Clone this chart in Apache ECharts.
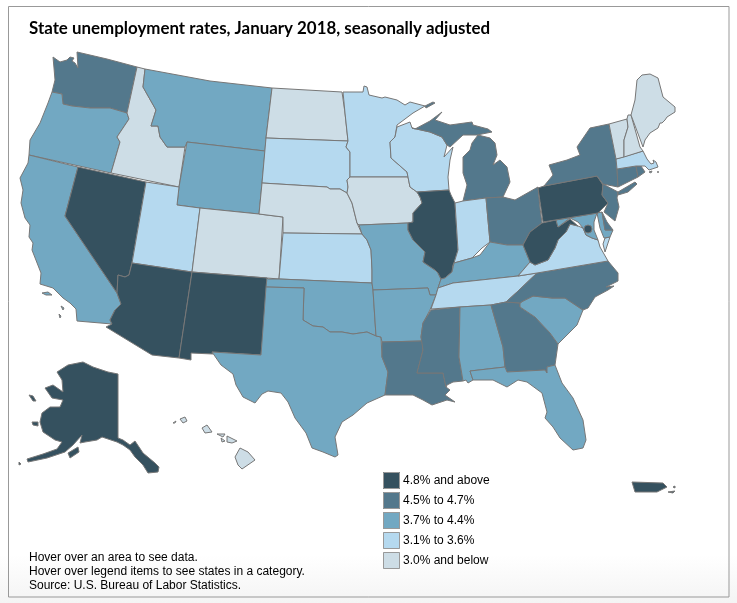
<!DOCTYPE html>
<html lang="en">
<head>
<meta charset="UTF-8">
<title>State unemployment rates</title>
<script src="https://cdn.jsdelivr.net/npm/echarts@6/dist/echarts.min.js"></script>
<style>html,body{margin:0;padding:0;background:#fff}</style>
</head>
<body>
<div id="main" style="width:737px;height:603px;"></div>
<script>
// rates read by legend class from the picture
const high = ['Alaska','Arizona','District of Columbia','Illinois','Nevada','New Mexico','Pennsylvania','West Virginia','Puerto Rico'];
const highRates = [7.3,4.9,5.0,4.8,5.0,5.9,4.8,5.4,10.6];
const upper = ['Washington','New York','Connecticut','New Jersey','Rhode Island','Ohio','Michigan','Mississippi','Louisiana','Georgia','North Carolina','Delaware'];
const upperRates = [4.7,4.6,4.6,4.6,4.5,4.6,4.7,4.6,4.7,4.5,4.5,4.5];
const middle = ['Oregon','California','Montana','Wyoming','Texas','Oklahoma','Arkansas','Missouri','Kentucky','Alabama','Florida','South Carolina','Maryland'];
const middleRates = [4.1,4.4,3.9,4.1,3.9,4.0,3.7,3.7,4.4,3.7,3.9,4.0,4.0];
const lower = ['Minnesota','Wisconsin','South Dakota','Kansas','Utah','Indiana','Tennessee','Virginia','Massachusetts'];
const lowerRates = [3.2,3.1,3.3,3.5,3.2,3.4,3.5,3.4,3.5];
const low = ['North Dakota','Idaho','Nebraska','Iowa','Colorado','Hawaii','Vermont','New Hampshire','Maine'];
const lowRates = [2.6,2.9,2.9,2.9,2.9,2.1,2.9,2.6,3.0];

const legendLabels = ['4.8% and above','4.5% to 4.7%','3.7% to 4.4%','3.1% to 3.6%','3.0% and below'];
const colors = ['#35515f','#53788c','#72a8c2','#b5d9ef','#cddde6'];

// outlines, in the picture's own coordinates
const outlines = {
  'Washington': [[53,57,60,62,67,60,70,57,74,58,72,61,75,63,78,68,77,52,107,59,137,67,127,113,110,108,90,108,72,106,63,104,62,94,52,92,55,80,54,68]],
  'Oregon': [[52,92,62,94,63,104,72,106,90,108,110,108,127,113,129,119,117,137,120,142,111,173,29,155,30,140,40,123,48,103]],
  'Idaho': [[137,67,145,69,143,87,156,110,151,126,158,126,160,137,167,147,185,147,179,187,111,173,120,142,117,137,129,119,127,113]],
  'Montana': [[145,69,210,81,272,88,266,138,265,151,187,142,185,147,167,147,160,137,158,126,151,126,156,110,143,87]],
  'Wyoming': [[187,142,265,151,262,183,259,214,200,208,177,205,179,187]],
  'California': [[29,155,78,167,65,216,117,293,121,304,115,310,110,320,112,324,77,321,76,309,70,303,63,298,53,288,40,284,41,273,32,250,33,243,29,237,30,225,25,218,21,203,23,190,20,178,28,163],
    [42,293,48,292,52,295,46,295],[61,306,64,308,63,310],[59,314,61,316,60,318]],
  'Nevada': [[78,167,146,182,132,263,129,275,125,277,118,275,117,293,65,216]],
  'Utah': [[146,182,179,187,177,205,200,208,192,272,132,263]],
  'Arizona': [[132,263,192,272,179,358,152,355,106,327,112,324,110,320,115,310,121,304,117,293,118,275,125,277,129,275]],
  'Colorado': [[200,208,259,214,283,217,279,279,267,278,192,272]],
  'New Mexico': [[192,272,267,278,268,287,261,355,212,352,213,354,191,353,191,360,179,358]],
  'North Dakota': [[272,88,342,92,345,113,348,141,266,138]],
  'South Dakota': [[266,138,348,141,346,147,350,152,350,177,347,180,348,187,347,193,340,189,330,189,327,187,262,183]],
  'Nebraska': [[262,183,327,187,330,189,340,189,347,193,352,203,357,223,362,234,283,233,283,217,259,214]],
  'Kansas': [[283,233,362,234,367,240,371,250,372,270,372,283,279,279]],
  'Oklahoma': [[268,279,279,279,372,283,373,290,376,336,367,332,353,334,342,332,330,332,323,327,313,326,303,320,304,288,266,287,267,278]],
  'Texas': [[266,287,304,288,303,320,313,326,323,327,330,332,342,332,353,334,367,332,376,336,381,337,382,357,388,372,385,395,367,403,353,415,342,422,335,437,338,455,335,457,323,452,312,448,306,433,295,418,288,402,281,393,268,391,262,394,255,403,243,397,236,385,233,374,221,365,212,352,261,355]],
  'Minnesota': [[343,92,363,92,364,86,367,87,369,95,382,98,385,97,397,100,405,105,410,102,425,106,413,113,397,125,395,137,390,142,391,158,407,172,408,177,350,177,350,152,346,147,348,141,345,113]],
  'Iowa': [[350,177,408,177,410,187,417,192,420,197,422,203,413,213,413,222,408,223,359,225,357,223,352,203,347,193,348,187,347,180]],
  'Missouri': [[359,225,408,223,408,230,413,240,425,252,423,262,435,270,438,273,441,279,438,288,436,295,430,295,428,288,373,290,372,283,372,270,371,250,367,240,362,234]],
  'Arkansas': [[373,290,428,288,430,295,436,295,430,310,423,323,421,337,422,341,382,342,381,337,376,336]],
  'Louisiana': [[382,342,422,341,423,350,417,373,443,373,446,387,450,390,445,395,455,402,447,400,432,405,423,400,413,395,400,395,385,395,388,372,382,357]],
  'Wisconsin': [[397,127,410,122,412,128,430,132,442,137,447,145,444,157,453,147,450,160,448,177,449,190,417,192,410,187,408,177,407,172,391,158,390,142,395,137]],
  'Illinois': [[417,192,449,190,451,195,455,203,458,250,454,263,453,265,452,272,445,278,441,279,438,273,435,270,423,262,425,252,413,240,408,230,408,223,413,222,413,213,422,203,420,197]],
  'Michigan': [[415,129,430,121,442,112,435,120,450,125,472,122,473,125,488,129,492,132,477,135,463,135,450,147,447,145,442,137,430,132,412,128],
    [478,135,490,138,495,143,497,155,493,165,500,160,507,167,510,182,503,197,486,198,463,201,467,185,463,173,463,157,470,150,472,143],
    [433,102,435,103,426,108,425,106]],
  'Indiana': [[455,203,463,201,486,198,490,242,482,248,472,258,454,263,458,250]],
  'Ohio': [[486,198,503,197,515,200,538,187,540,208,542,223,530,232,523,245,507,245,490,242]],
  'Kentucky': [[438,288,441,279,445,278,452,272,454,263,472,258,480,255,490,242,507,245,523,245,530,262,518,276,453,283]],
  'Tennessee': [[438,288,453,283,518,276,537,273,517,292,506,302,491,305,460,307,431,309,436,295]],
  'Mississippi': [[431,310,460,307,459,357,463,381,453,382,447,385,446,387,443,373,417,373,423,350,421,337,423,323]],
  'Alabama': [[460,307,491,305,503,347,505,367,470,371,473,380,468,383,466,380,463,381,459,357]],
  'Georgia': [[491,305,506,302,520,303,520,307,535,317,550,333,558,344,555,365,547,367,547,373,545,370,507,372,505,367,503,347]],
  'Florida': [[470,371,505,367,507,372,545,370,547,373,547,367,555,365,562,383,573,398,583,420,586,440,583,448,573,450,560,438,553,427,545,418,547,412,542,393,527,382,518,380,507,387,493,380,477,380,473,380]],
  'South Carolina': [[520,307,520,303,523,301,533,296,552,298,565,298,583,310,577,325,567,335,558,344,550,333,535,317]],
  'North Carolina': [[506,302,517,292,537,273,608,261,618,273,618,281,606,287,614,286,608,290,595,297,588,308,583,310,565,298,552,298,533,296,523,301,520,303]],
  'Virginia': [[518,276,530,262,535,265,548,260,555,248,558,240,566,232,570,224,578,226,583,228,586,235,592,238,598,240,600,247,604,254,608,261,537,273],
    [610,237,605,252,603,244,605,238]],
  'West Virginia': [[542,223,556,220,558,227,570,219,578,226,570,224,566,232,558,240,555,248,548,260,535,265,530,262,523,245,530,232]],
  'Maryland': [[556,220,597,213,594,222,594,230,598,240,592,238,586,235,583,228,578,222,570,218,558,227],
    [597,213,602,212,605,230,613,230,610,237,604,238,600,228,598,218]],
  'Delaware': [[602,212,607,222,613,230,605,230]],
  'District of Columbia': [[592,229,591,232,588,233,585,232,584,229,585,226,588,225,591,226]],
  'Pennsylvania': [[538,188,544,186,597,176,603,185,602,195,608,203,598,213,543,222]],
  'New Jersey': [[603,184,618,192,617,198,619,207,615,221,604,212,608,203,602,195]],
  'New York': [[544,186,553,175,549,165,567,160,580,155,577,147,590,128,609,124,616,157,617,169,618,187,603,184,597,176],
    [618,192,635,182,637,184,628,192,618,195]],
  'Connecticut': [[617,169,636,166,638,177,618,187]],
  'Rhode Island': [[636,166,641,166,645,172,638,177]],
  'Massachusetts': [[616,159,643,151,647,159,651,164,654,163,653,160,656,162,658,167,649,170,645,166,636,166,617,169],
    [649,172,652,171,651,173],[657,172,659,172,658,173]],
  'Vermont': [[609,124,627,119,628,127,624,140,624,157,616,159]],
  'New Hampshire': [[627,119,628,115,631,115,640,147,643,151,624,157,624,140,628,127]],
  'Maine': [[631,115,635,100,637,80,642,75,650,74,658,78,663,97,675,107,675,112,667,117,665,120,662,123,660,123,658,128,650,133,645,140,643,147]],
  'Alaska': [[57,372,68,365,83,362,93,367,108,372,118,374,118,438,123,440,130,445,135,441,143,453,155,463,159,467,158,472,148,473,143,465,135,457,130,450,123,445,117,442,102,437,97,440,85,442,80,443,82,435,73,445,65,452,47,458,28,462,27,459,43,454,57,449,62,442,55,440,43,432,40,422,42,413,50,407,60,407,63,400,52,398,45,388,53,385,63,392,62,380],
    [68,453,78,447,79,452,70,458],[32,422,38,422,38,426,33,425],[29,395,33,396,36,401,33,401],[19,462,21,464,19,465]],
  'Hawaii': [[235,457,240,448,248,452,255,460,242,469,238,465],[227,436,237,441,232,443,227,442],[217,434,225,434,223,437],[221,438,225,441,222,442],[202,428,207,425,212,432,205,433],[180,419,185,417,187,421,183,423],[173,423,176,421,175,423]],
  'Puerto Rico': [[632,482,663,483,667,487,657,492,635,492],[668,492,675,491,673,493],[673,487,675,486,675,488]]
};

function ring(flat) {
  const pts = [];
  for (let i = 0; i < flat.length; i += 2) pts.push([flat[i], flat[i + 1]]);
  pts.push(pts[0]);
  return pts;
}

const usMap = {
  type: 'FeatureCollection',
  features: Object.keys(outlines).map(name => ({
    type: 'Feature',
    properties: { name: name },
    geometry: { type: 'MultiPolygon', coordinates: outlines[name].map(r => [ring(r)]) }
  }))
};
echarts.registerMap('us', usMap);

const toData = (names, rates) => names.map((n, i) => ({ name: n, value: rates[i] }));

const chart = echarts.init(document.getElementById('main'), null, { renderer: 'canvas' });
chart.setOption({
  animation: false,
  backgroundColor: new echarts.graphic.LinearGradient(0, 0, 0, 1, [
    { offset: 0, color: '#ffffff' }, { offset: 0.92, color: '#ffffff' }, { offset: 1, color: '#f4f4f4' }
  ]),
  title: {
    text: 'State unemployment rates, January 2018, seasonally adjusted',
    left: 29, top: 20, padding: 0,
    textStyle: { fontFamily: 'Lato', fontWeight: 'bold', fontSize: 16.9, color: '#000' }
  },
  visualMap: {
    type: 'piecewise',
    left: 383, top: 472, padding: 0,
    align: 'left',
    itemWidth: 17, itemHeight: 17, itemGap: 3, itemSymbol: 'rect',
    textGap: 3,
    selectedMode: false,
    textStyle: { fontFamily: 'Liberation Sans', fontSize: 12, color: '#000' },
    pieces: [
      { gte: 4.8, label: legendLabels[0], color: colors[0] },
      { gte: 4.5, lte: 4.7, label: legendLabels[1], color: colors[1] },
      { gte: 3.7, lte: 4.4, label: legendLabels[2], color: colors[2] },
      { gte: 3.1, lte: 3.6, label: legendLabels[3], color: colors[3] },
      { lte: 3.0, label: legendLabels[4], color: colors[4] }
    ]
  },
  series: [{
    type: 'map',
    map: 'us',
    projection: { project: p => p, unproject: p => p },
    boundingCoords: [[0, 0], [737, 603]],
    left: 0, top: 0, width: 737, height: 603,
    silent: true,
    label: { show: false },
    itemStyle: { borderColor: '#777', borderWidth: 1 },
    data: [].concat(toData(high, highRates), toData(upper, upperRates), toData(middle, middleRates), toData(lower, lowerRates), toData(low, lowRates))
  }],
  graphic: [
    { type: 'rect', shape: { x: 8.5, y: 6.5, width: 720.5, height: 590.5 }, style: { fill: 'none', stroke: '#999', lineWidth: 1 }, silent: true },
    { type: 'text', left: 29, top: 551, style: { text: 'Hover over an area to see data.\nHover over legend items to see states in a category.\nSource: U.S. Bureau of Labor Statistics.', font: '12px "Liberation Sans"', fill: '#000', lineHeight: 14 } }
  ].concat(colors.map((c, i) => ({
    type: 'rect', z: 100, shape: { x: 383.5, y: 472.5 + i * 20, width: 16, height: 16 }, style: { fill: 'none', stroke: '#999', lineWidth: 1 }, silent: true
  })))
});
</script>
</body>
</html>
